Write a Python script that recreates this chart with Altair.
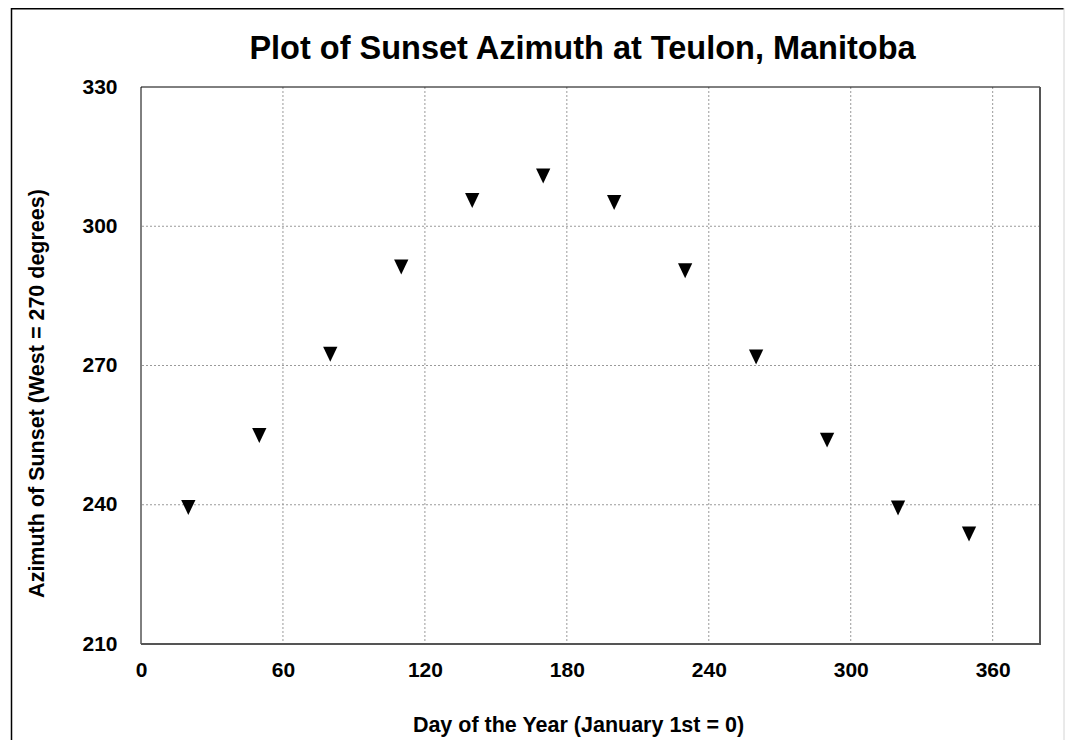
import altair as alt
import pandas as pd

# ---- data ----
days = [20, 50, 80, 110, 140, 170, 200, 230, 260, 290, 320, 350]
azimuth = [239.5, 255.0, 272.5, 291.3, 305.6, 310.9, 305.2, 290.5, 271.9, 254.0, 239.4, 233.8]
x_ticks = [0, 60, 120, 180, 240, 300, 360]
y_ticks = [210, 240, 270, 300, 330]
x_grid = [60, 120, 180, 240, 300, 360]
y_grid = [240, 270, 300]

TITLE = "Plot of Sunset Azimuth at Teulon, Manitoba"
X_TITLE = "Day of the Year (January 1st = 0)"
Y_TITLE = "Azimuth of Sunset (West = 270 degrees)"

FONT = "Liberation Sans"
W, H = 899, 557
PAD = {"left": 133, "top": 79, "right": 26, "bottom": 96}

df = pd.DataFrame({"day": days, "azimuth": azimuth})
gx = pd.DataFrame({"day": x_grid})
gy = pd.DataFrame({"azimuth": y_grid})
one = pd.DataFrame({"k": [0]})

xscale = alt.Scale(domain=[0, 380], nice=False, zero=False)
yscale = alt.Scale(domain=[210, 330], nice=False, zero=False)

x_axis = alt.Axis(
    values=x_ticks, grid=False, domain=False, ticks=False, tickSize=0,
    labelFont=FONT, labelFontSize=21, labelFontWeight="bold", labelColor="black",
    labelPadding=15, labelFlush=False, labelOverlap=False,
    title=X_TITLE, titleFont=FONT, titleFontSize=21.5, titleFontWeight="bold",
    titleColor="black", titleX=437, titleY=81, titleAlign="center",
    titleBaseline="middle",
)
y_axis = alt.Axis(
    values=y_ticks, grid=False, domain=False, ticks=False, tickSize=0,
    labelFont=FONT, labelFontSize=21, labelFontWeight="bold", labelColor="black",
    labelPadding=24, labelFlush=False, labelOverlap=False, labelBaseline="middle",
    title=Y_TITLE, titleFont=FONT, titleFontSize=21.5, titleFontWeight="bold",
    titleColor="black", titleAngle=270, titleX=-104, titleY=306,
    titleAlign="center", titleBaseline="middle",
)

grid_v = alt.Chart(gx).mark_rule(color="#9a9a9a", strokeWidth=1, strokeDash=[2, 2]).encode(
    x=alt.X("day:Q", scale=xscale, axis=x_axis)
)
grid_h = alt.Chart(gy).mark_rule(color="#9a9a9a", strokeWidth=1, strokeDash=[2, 2]).encode(
    y=alt.Y("azimuth:Q", scale=yscale, axis=y_axis)
)

# plot frame: black top/left, darker grey heavier right/bottom
frame_top = alt.Chart(one).mark_rule(color="black", strokeWidth=1).encode(
    x=alt.value(0), x2=alt.value(W), y=alt.value(0))
frame_left = alt.Chart(one).mark_rule(color="black", strokeWidth=1).encode(
    x=alt.value(0), y=alt.value(0), y2=alt.value(H))
frame_right = alt.Chart(one).mark_rule(color="#555555", strokeWidth=2).encode(
    x=alt.value(W), y=alt.value(0), y2=alt.value(H + 1))
frame_bottom = alt.Chart(one).mark_rule(color="#555555", strokeWidth=2).encode(
    x=alt.value(0), x2=alt.value(W + 1), y=alt.value(H))

# outer border of the whole picture
outer_left = alt.Chart(one).mark_rule(color="black", strokeWidth=1.5).encode(
    x=alt.value(-129.5), y=alt.value(-79), y2=alt.value(H + PAD["bottom"]))
outer_top = alt.Chart(one).mark_rule(color="black", strokeWidth=1.5).encode(
    x=alt.value(-130), x2=alt.value(W + 24), y=alt.value(-78.3))
outer_right = alt.Chart(one).mark_rule(color="#d4d4d4", strokeWidth=1).encode(
    x=alt.value(W + 24), y=alt.value(-79), y2=alt.value(H + PAD["bottom"]))

points = alt.Chart(df).mark_point(
    shape="M-1,-1L1,-1L0,1.1Z", filled=True, color="black", size=204,
    opacity=1, strokeWidth=0,
).encode(
    x=alt.X("day:Q", scale=xscale, axis=x_axis),
    y=alt.Y("azimuth:Q", scale=yscale, axis=y_axis),
)

chart = alt.layer(
    grid_v, grid_h, frame_top, frame_left, frame_right, frame_bottom,
    outer_left, outer_top, outer_right, points,
).properties(
    width=W, height=H,
    title=alt.TitleParams(
        TITLE, font=FONT, fontSize=32.5, fontWeight="bold", color="black",
        anchor="middle", frame="group", dx=-8, offset=-84.5, baseline="alphabetic",
    ),
    autosize=alt.AutoSizeParams(type="none"),
    padding=PAD,
    background="white",
).configure_view(stroke=None)

chart.save("out.html", embed_options={"renderer": "svg", "actions": False})
